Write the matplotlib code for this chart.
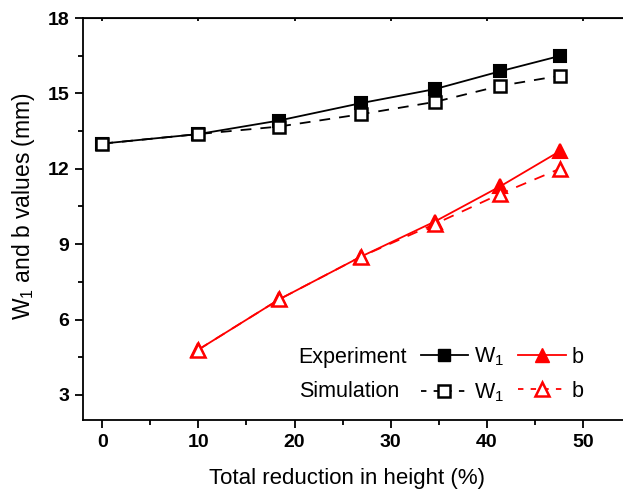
import matplotlib
matplotlib.use("Agg")
import matplotlib.pyplot as plt
from matplotlib.lines import Line2D
from matplotlib.ticker import MultipleLocator

plt.rcParams['font.family'] = ['Liberation Sans', 'DejaVu Sans']
plt.rcParams['mathtext.fontset'] = 'custom'
plt.rcParams['mathtext.rm'] = 'Liberation Sans'

# data
reduction = [0, 10, 18.4, 26.9, 34.6, 41.4, 47.6]
w1_exp = [13.0, 13.38, 13.92, 14.61, 15.17, 15.88, 16.49]
w1_sim = [13.0, 13.38, 13.68, 14.17, 14.66, 15.3, 15.7]
reduction_b = [10, 18.4, 26.9, 34.6, 41.4, 47.6]
b_exp = [4.8, 6.8, 8.5, 9.9, 11.3, 12.7]
b_sim = [4.8, 6.8, 8.5, 9.8, 11.0, 12.0]

W, H = 623, 490
fig = plt.figure(figsize=(W / 100, H / 100), dpi=100)
ax = fig.add_axes([83 / W, 1 - 420 / H, (631 - 83) / W, (420 - 18) / H])

dash = (6, 5)
ax.plot(reduction, w1_exp, color='black', lw=1.3, marker='s', ms=9,
        mfc='black', mec='black', mew=1.5, zorder=3)
ax.plot(reduction_b, b_exp, color='red', lw=1.3, marker='^', ms=10,
        mfc='red', mec='red', mew=1.5, zorder=3)
ax.plot(reduction, w1_sim, color='black', lw=1.3, ls=(0, dash), marker='s', ms=9,
        mfc='white', mec='black', mew=1.8, zorder=4)
ax.plot(reduction_b, b_sim, color='red', lw=1.3, ls=(0, dash), marker='^', ms=10,
        mfc='white', mec='red', mew=1.8, zorder=4)

ax.set_xlim(-2, 55)
ax.set_ylim(2, 18)
ax.xaxis.set_major_locator(MultipleLocator(10))
ax.xaxis.set_minor_locator(MultipleLocator(5))
ax.yaxis.set_major_locator(MultipleLocator(3))
ax.yaxis.set_minor_locator(MultipleLocator(1.5))

ax.tick_params(axis='both', which='major', direction='out', length=6, width=1.3,
               labelsize=14, top=False, right=False)
ax.tick_params(axis='both', which='minor', direction='out', length=3.5, width=1.3,
               top=False, right=False)
for lab in ax.get_xticklabels() + ax.get_yticklabels():
    lab.set_fontweight('bold')
ax.tick_params(axis='x', pad=4)
ax.tick_params(axis='y', pad=4)
for s in ax.spines.values():
    s.set_linewidth(1.3)

top = ax.secondary_xaxis('top')
top.xaxis.set_major_locator(MultipleLocator(10))
top.tick_params(direction='in', length=2.5, width=1.3, labeltop=False)

ax.set_xlabel('Total reduction in height (%)', fontsize=16, va='top')
ax.set_ylabel(r'$\mathregular{W_1}$ and b values (mm)', fontsize=16.5, va='bottom')
ax.xaxis.set_label_coords((347.5 - 83) / 548, (420 - 468) / 402)
ax.yaxis.set_label_coords((37 - 83) / 548, (420 - 206) / 402)

blank = Line2D([], [], ls='none')
h_w1e = Line2D([], [], color='black', lw=1.3, marker='s', ms=9, mfc='black', mec='black')
h_w1s = Line2D([], [], color='black', lw=1.3, ls=(0, (3, 4)), marker='s', ms=9,
               mfc='white', mec='black', mew=1.8)
h_be = Line2D([], [], color='red', lw=1.3, marker='^', ms=10, mfc='red', mec='red')
h_bs = Line2D([], [], color='red', lw=1.3, ls=(0, (3, 4)), marker='^', ms=10,
              mfc='white', mec='red', mew=1.8)
handles = [blank, blank, h_w1e, h_w1s, h_be, h_bs]
labels = ['Experiment', 'Simulation', r'$\mathregular{W_1}$', r'$\mathregular{W_1}$', 'b', 'b']
leg = ax.legend(handles, labels, ncol=3, frameon=False, fontsize=15.5,
                handlelength=2.2, handletextpad=0.3, columnspacing=0.63,
                labelspacing=0.6, borderpad=0, loc='upper left',
                bbox_to_anchor=(234 / W, 1 - 335 / H), bbox_transform=fig.transFigure)

fig.savefig('out.png', dpi=100)
